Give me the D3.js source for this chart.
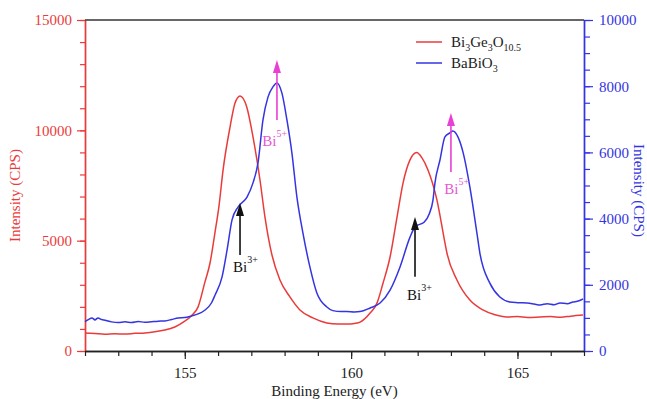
<!DOCTYPE html>
<html><head><meta charset="utf-8">
<script src="https://cdn.jsdelivr.net/npm/d3@7"></script>
<style>
body{margin:0;background:#fff}
svg{display:block}
text{font-family:"Liberation Serif","Times New Roman",serif}
</style>
</head><body>
<svg id="c" width="647" height="399"></svg>
<script>
// ---- data ----
const redEnergy = [152.0,152.3,152.6,152.9,153.2,153.5,153.8,154.1,154.4,154.7,155.0,155.2,155.4,155.6,155.76,155.9,156.03,156.15,156.36,156.51,156.66,156.86,157.05,157.26,157.41,157.62,157.86,158.16,158.46,158.85,159.27,159.6,159.87,160.1,160.27,160.57,160.78,160.96,161.17,161.38,161.56,161.77,161.97,162.13,162.31,162.58,162.82,162.88,163.18,163.57,163.96,164.3,164.68,165.0,165.3,165.68,166.0,166.3,166.6,166.97];
const redIntensity = [820,790,760,780,770,800,820,870,950,1090,1350,1600,2000,3100,4000,5300,6600,8200,10150,11240,11560,11070,9700,7750,6070,4350,3220,2450,1860,1500,1270,1220,1220,1250,1310,1720,2180,3080,4260,6070,7610,8660,8990,8750,8200,6840,4900,4440,3220,2310,1860,1650,1540,1560,1520,1540,1560,1530,1580,1630];

const blueEnergy = [152.0,152.1,152.21,152.3,152.39,152.5,152.6,152.8,153.0,153.2,153.4,153.6,153.8,154.0,154.2,154.4,154.6,154.8,155.0,155.2,155.4,155.61,155.8,155.91,156.12,156.27,156.42,156.6,156.87,157.05,157.2,157.35,157.5,157.65,157.77,157.92,158.07,158.22,158.37,158.55,158.76,158.97,159.27,159.45,159.7,159.87,160.1,160.27,160.57,160.87,161.17,161.47,161.77,161.92,162.2,162.35,162.46,162.52,162.67,162.82,162.97,163.06,163.21,163.37,163.57,163.78,163.87,164.17,164.47,164.77,165.0,165.29,165.5,165.68,165.9,166.1,166.28,166.5,166.67,166.8,166.97];
const blueIntensity = [885,950,1000,940,1000,950,930,880,860,880,860,890,870,885,900,910,950,1000,1010,1060,1120,1240,1450,1690,2240,3050,3960,4350,4650,5080,5680,6980,7670,7980,8100,7790,6980,5980,4650,3570,2540,1750,1330,1220,1190,1190,1180,1190,1300,1450,1840,2540,3440,3750,3900,4150,4560,5080,5770,6470,6590,6650,6470,5980,4950,3570,2960,2050,1630,1480,1460,1450,1420,1390,1430,1400,1450,1430,1480,1500,1570];

const xMajor = [155,160,165];
const leftMajor = [0,5000,10000,15000];
const rightMajor = [0,2000,4000,6000,8000,10000];

// legend names as [text, subscript] pairs
const seriesNames = [
  [["Bi","3"],["Ge","3"],["O","10.5"]],
  [["BaBi",""],["O","3"]]
];

// annotations: arrow energy, arrow tail/tip (right-axis units), label start energy, label baseline, ion
const annotations = [
  {e:157.77, from:6980, to:8790, labelE:157.33, labelV:6200, ion:"Bi", charge:"5+", kind:"pink"},
  {e:163.0,  from:5410, to:7190, labelE:162.8,  labelV:4750, ion:"Bi", charge:"5+", kind:"pink"},
  {e:156.66, from:2900, to:4470, labelE:156.45, labelV:2390, ion:"Bi", charge:"3+", kind:"black"},
  {e:161.92, from:2240, to:4050, labelE:161.68, labelV:1540, ion:"Bi", charge:"3+", kind:"black"}
];

// ---- styles ----
const RED = "#ea3b3b", BLUE = "#3434e2", PINK = "#e83fd4";

const svg = d3.select("#c");
const x = d3.scaleLinear().domain([152,167]).range([85,584]);
const yL = d3.scaleLinear().domain([0,15000]).range([351,20]);
const yR = d3.scaleLinear().domain([0,10000]).range([351,20]);

function styleAxis(g, color, fs){
  g.select(".domain").attr("stroke", color).attr("stroke-width",1.4);
  g.selectAll(".tick line").attr("stroke", color).attr("stroke-width",1.2);
  g.selectAll(".tick text").attr("fill", color).style("font-size", fs+"px")
    .style("font-family",'"Liberation Serif","Times New Roman",serif');
}

// left axis
const gLmin = svg.append("g").attr("transform",`translate(${x.range()[0]},0)`)
  .call(d3.axisLeft(yL).tickValues(d3.range(0,15001,1000)).tickSize(5).tickFormat("").tickSizeOuter(0));
styleAxis(gLmin, RED, 15);
const gL = svg.append("g").attr("transform",`translate(${x.range()[0]},0)`)
  .call(d3.axisLeft(yL).tickValues(leftMajor).tickSize(8).tickPadding(5).tickFormat(d3.format("d")).tickSizeOuter(0));
styleAxis(gL, RED, 15);

// right axis
const gRmin = svg.append("g").attr("transform",`translate(${x.range()[1]},0)`)
  .call(d3.axisRight(yR).tickValues(d3.range(0,10001,500)).tickSize(6).tickFormat("").tickSizeOuter(0));
styleAxis(gRmin, BLUE, 15);
const gR = svg.append("g").attr("transform",`translate(${x.range()[1]},0)`)
  .call(d3.axisRight(yR).tickValues(rightMajor).tickSize(9).tickPadding(6).tickFormat(d3.format("d")).tickSizeOuter(0));
styleAxis(gR, BLUE, 15);

// bottom axis
const gBmin = svg.append("g").attr("transform",`translate(0,${yL.range()[0]})`)
  .call(d3.axisBottom(x).tickValues(d3.range(152,167.01,1)).tickSize(5).tickFormat("").tickSizeOuter(0));
styleAxis(gBmin, "#222", 15);
const gB = svg.append("g").attr("transform",`translate(0,${yL.range()[0]})`)
  .call(d3.axisBottom(x).tickValues(xMajor).tickSize(8).tickPadding(8).tickFormat(d3.format("d")).tickSizeOuter(0));
styleAxis(gB, "#222", 15);

// top frame line
svg.append("line").attr("x1",x(152)).attr("x2",x(167)).attr("y1",yL(15000)).attr("y2",yL(15000))
  .attr("stroke","#333").attr("stroke-width",1.4);

// curves
const lineL = d3.line().x(d=>x(d[0])).y(d=>yL(d[1])).curve(d3.curveMonotoneX);
const lineR = d3.line().x(d=>x(d[0])).y(d=>yR(d[1])).curve(d3.curveMonotoneX);
svg.append("path").datum(d3.zip(redEnergy, redIntensity)).attr("d", lineL)
  .attr("fill","none").attr("stroke",RED).attr("stroke-width",1.5);
svg.append("path").datum(d3.zip(blueEnergy, blueIntensity)).attr("d", lineR)
  .attr("fill","none").attr("stroke",BLUE).attr("stroke-width",1.5);

// annotations
annotations.forEach(a=>{
  const col = a.kind==="pink" ? PINK : "#111";
  const ax = x(a.e), yTail = yR(a.from), yTip = yR(a.to);
  svg.append("line").attr("x1",ax).attr("x2",ax).attr("y1",yTail).attr("y2",yTip+10)
    .attr("stroke",col).attr("stroke-width",1.6);
  svg.append("path").attr("d",`M${ax},${yTip} L${ax-4},${yTip+13} L${ax+4},${yTip+13} Z`).attr("fill",col);
  const t = svg.append("text").attr("x",x(a.labelE)).attr("y",yR(a.labelV))
    .attr("fill", a.kind==="pink" ? "#e25ad2" : "#111").style("font-size","15px");
  t.append("tspan").text(a.ion);
  t.append("tspan").attr("dy",-9).style("font-size","10px").text(a.charge);
});

// axis titles
svg.append("text").attr("transform",`translate(20,${(yL.range()[0]+yL.range()[1])/2+10}) rotate(-90)`)
  .attr("text-anchor","middle").attr("fill",RED).style("font-size","15px").text("Intensity (CPS)");
svg.append("text").attr("transform",`translate(634,${(yR.range()[0]+yR.range()[1])/2+5}) rotate(90)`)
  .attr("text-anchor","middle").attr("fill",BLUE).style("font-size","15px").text("Intensity (CPS)");
svg.append("text").attr("x",(x.range()[0]+x.range()[1])/2).attr("y",396)
  .attr("text-anchor","middle").attr("fill","#222").style("font-size","15px").text("Binding Energy (eV)");

// legend
const legColors = [RED, BLUE];
seriesNames.forEach((parts,i)=>{
  const ly = 42 + i*21;
  svg.append("line").attr("x1",416).attr("x2",442).attr("y1",ly).attr("y2",ly)
    .attr("stroke",legColors[i]).attr("stroke-width",1.5);
  const t = svg.append("text").attr("x",451).attr("y",ly+5).attr("fill","#222").style("font-size","15px");
  let down = false;
  parts.forEach(([main, sub])=>{
    t.append("tspan").attr("dy", down ? -4 : 0).text(main);
    down = false;
    if(sub){ t.append("tspan").attr("dy",4).style("font-size","10px").text(sub); down = true; }
  });
});
</script>
</body></html>
